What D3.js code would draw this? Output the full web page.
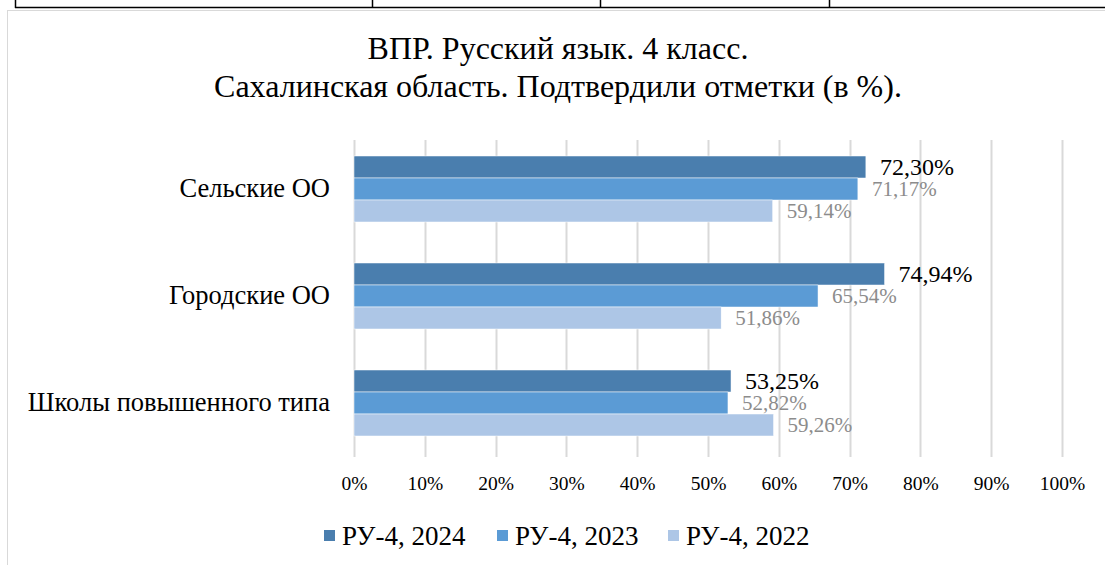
<!DOCTYPE html>
<html><head><meta charset="utf-8">
<script src="https://cdn.jsdelivr.net/npm/d3@7"></script>
<style>body{margin:0;background:#fff}svg{display:block}text{font-family:"Liberation Serif","Times New Roman",serif}</style>
</head><body><svg id="c" width="1105" height="565"></svg>
<script>
const categories = ["Сельские ОО", "Городские ОО", "Школы повышенного типа"];
const seriesNames = ["РУ-4, 2024", "РУ-4, 2023", "РУ-4, 2022"];
const v2024 = [72.30, 74.94, 53.25];
const v2023 = [71.17, 65.54, 52.82];
const v2022 = [59.14, 51.86, 59.26];
const xTicks = [0,10,20,30,40,50,60,70,80,90,100];
const colors = ["#4a7eae", "#5b9bd5", "#adc6e6"];
const labelColors = ["#000000", "#8c8c8c", "#8c8c8c"];
const series = [v2024, v2023, v2022];

const svg = d3.select("#c");
// table row above
svg.append("line").attr("x1",15).attr("x2",1105).attr("y1",7.5).attr("y2",7.5).attr("stroke","#000").attr("stroke-width",1.5);
[15.5,372.5,600.5,829.5].forEach(x=>svg.append("line").attr("x1",x).attr("x2",x).attr("y1",0).attr("y2",8).attr("stroke","#000").attr("stroke-width",1.5));
// chart frame
svg.append("rect").attr("x",7.5).attr("y",10.5).attr("width",1110).attr("height",570).attr("fill","#fff").attr("stroke","#d9d9d9");

// title
const title = svg.append("text").attr("text-anchor","middle").attr("font-size",32).attr("fill","#000");
title.append("tspan").attr("x",558).attr("y",59).text("ВПР. Русский язык. 4 класс.");
title.append("tspan").attr("x",558).attr("y",97).text("Сахалинская область. Подтвердили отметки (в %).");

const x = d3.scaleLinear().domain([0,100]).range([354,1062]);
const y = d3.scaleBand().domain(categories).range([140,452]).paddingInner(41/107).paddingOuter(16/107);
const ys = d3.scaleBand().domain(seriesNames).range([0,y.bandwidth()]);

// gridlines
svg.append("g").selectAll("line").data(xTicks).join("line")
  .attr("x1",d=>Math.round(x(d))+0.5).attr("x2",d=>Math.round(x(d))+0.5)
  .attr("y1",140).attr("y2",457).attr("stroke","#d9d9d9").attr("stroke-width",2);

// axis labels
const xAxis = d3.axisBottom(x).tickValues(xTicks).tickFormat(d=>d+"%").tickSize(0).tickPadding(0);
const gx = svg.append("g").attr("transform","translate(0,483)").call(xAxis);
gx.select(".domain").remove();
gx.selectAll("text").attr("font-family","Liberation Serif").attr("font-size",19.5).attr("fill","#000").attr("y",0).attr("dy","0.35em");

const yAxis = d3.axisLeft(y).tickSize(0).tickPadding(24);
const gy = svg.append("g").attr("transform","translate(354,0)").call(yAxis);
gy.select(".domain").remove();
gy.selectAll("text").attr("font-family","Liberation Serif").attr("font-size",26.5).attr("fill","#000");

// bars
series.forEach((vals,si)=>{
  const g = svg.append("g");
  g.selectAll("rect").data(vals).join("rect")
    .attr("x",x(0)).attr("y",(d,i)=>y(categories[i])+ys(seriesNames[si]))
    .attr("width",d=>x(d)-x(0)).attr("height",ys.bandwidth())
    .attr("fill",colors[si]).attr("stroke","#fff").attr("stroke-width",0.5);
  g.selectAll("text").data(vals).join("text")
    .attr("x",d=>x(d)+14).attr("y",(d,i)=>y(categories[i])+ys(seriesNames[si])+ys.bandwidth()/2)
    .attr("dy","0.35em").attr("font-size",si===0?24:21).attr("fill",labelColors[si])
    .text(d=>d.toFixed(2).replace(".",",")+"%");
});

// legend
const legX = [324, 497, 668];
seriesNames.forEach((n,i)=>{
  svg.append("rect").attr("x",legX[i]).attr("y",530).attr("width",11).attr("height",11).attr("fill",colors[i]);
  svg.append("text").attr("x",legX[i]+18).attr("y",536).attr("dy","0.35em").attr("font-size",27).attr("fill","#000").text(n);
});
</script></body></html>
